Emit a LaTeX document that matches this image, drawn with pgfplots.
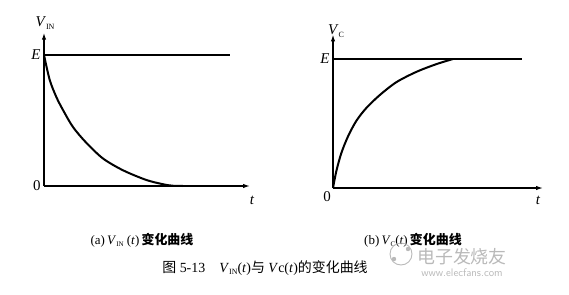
\documentclass[border=0pt]{standalone}
\usepackage{pgfplots}
\pgfplotsset{compat=1.18}
\usepackage{fontspec}
\setmainfont{Liberation Serif}
\newfontfamily\cjk{Noto Sans CJK SC}
\usetikzlibrary{arrows.meta}

% Shared style for the two response plots
\pgfplotsset{resp/.style={
  scale only axis,
  axis x line=bottom, axis y line=left,
  axis line style={line width=1.3bp, -{Latex[length=7bp,width=4.5bp]}},
  xtick=\empty,
  major tick length=0pt,
  tick label style={font=\fontsize{15}{15}\selectfont},
  xmin=0, ymin=0,
  clip=false,
  anchor=south west,
}}

\begin{document}
\begin{tikzpicture}[x=1bp,y=1bp]
\useasboundingbox (0,0) rectangle (569,294);

% (a) input voltage decaying from E to 0
\begin{axis}[resp, at={(44bp,108bp)},
  x=1bp, y=131bp, xmax=206, ymax=1.17,
  ytick={0,1}, yticklabels={\textup{0},\textit{E}}]
  \addplot[black, line width=1.1bp] coordinates {(0,1) (186,1)};
  \addplot[black, line width=2bp, smooth] coordinates {
    (0,1.00) (5.7,0.81) (12.3,0.68) (19,0.58) (29,0.45) (42.3,0.33)
    (59,0.21) (79,0.12) (102.3,0.046) (120,0.012) (129,0.002) (139,0)};
\end{axis}

% (b) capacitor voltage rising from 0 to E
\begin{axis}[resp, at={(333bp,106bp)},
  x=1bp, y=129bp, xmax=210, ymax=1.19,
  ytick={1}, yticklabels={\textit{E}}]
  \addplot[black, line width=1.1bp] coordinates {(0,1) (189,1)};
  \addplot[black, line width=2bp, smooth] coordinates {
    (0,0) (3.3,0.13) (8.3,0.27) (15,0.40) (23.3,0.52) (33.3,0.62)
    (46.7,0.72) (63.3,0.82) (83.3,0.90) (103.3,0.96) (120,1.0)};
\end{axis}
\node[font=\fontsize{15}{15}\selectfont] at (327,97) {0};

% axis names
\node[font=\fontsize{15}{15}\selectfont] at (45,271) {\textit{V}\raisebox{-3bp}{\fontsize{8}{8}\selectfont IN}};
\node[font=\fontsize{15}{15}\selectfont] at (336,263) {\textit{V}\raisebox{-3bp}{\fontsize{8}{8}\selectfont C}};
\node[font=\fontsize{15}{15}\selectfont\itshape] at (252,94) {t};
\node[font=\fontsize{15}{15}\selectfont\itshape] at (538,94) {t};

% sub-captions
\node[font=\fontsize{13}{13}\selectfont] at (142,54)
  {(a)\,\textit{V}\raisebox{-2bp}{\fontsize{7}{7}\selectfont IN} (\textit{t})\,{\cjk\bfseries 变化曲线}};
\node[font=\fontsize{13}{13}\selectfont] at (413,54)
  {(b)\,\textit{V}\raisebox{-2bp}{\fontsize{7}{7}\selectfont C}(\textit{t})\,{\cjk\bfseries 变化曲线}};

% figure caption
\node[font=\fontsize{14}{14}\selectfont] at (265,26)
  {{\cjk 图} 5-13\quad \textit{V}\raisebox{-2bp}{\fontsize{8}{8}\selectfont IN}(\textit{t}){\cjk 与} \textit{V}c(\textit{t}){\cjk 的变化曲线}};

% publisher mark
\draw[gray!55, line width=0.9bp] (401,40) circle (11);
\fill[gray!55] (394,35) circle (2.2) (408,45) circle (2.2);
\node[gray!55, font=\fontsize{18}{18}\selectfont\cjk] at (462,37) {电子发烧友};
\node[gray!55, font=\fontsize{11}{11}\selectfont\sffamily] at (462,21) {www.elecfans.com};
\end{tikzpicture}
\end{document}
